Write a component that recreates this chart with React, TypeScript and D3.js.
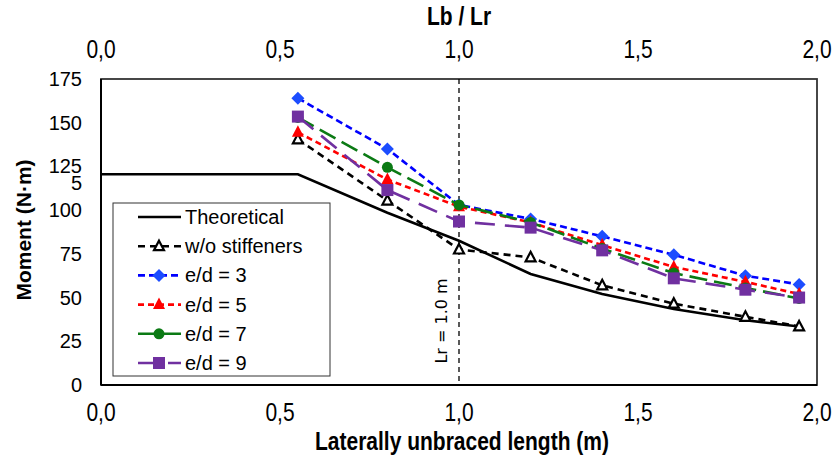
import React, { useEffect, useRef } from "react";
import * as d3 from "d3";

// x positions (laterally unbraced length, m)
const lengths = [0.55, 0.8, 1.0, 1.2, 1.4, 1.6, 1.8, 1.95];
const theoLengths = [0, 0.55, 0.8, 1.0, 1.2, 1.4, 1.6, 1.8, 1.95];

const theoretical = [120.5, 120.5, 98.5, 82.5, 63.5, 52, 43.5, 37, 33.5];
const woStiffeners = [140.5, 105.5, 77.5, 73, 57, 46.5, 39, 33.5];
const ed3 = [164, 135, 103, 95, 85, 74.5, 62.5, 57.5];
const ed5 = [144.5, 117.5, 102, 93, 80, 67.5, 59, 52];
const ed7 = [153, 124.5, 103, 93, 78, 64, 55.5, 49.5];
const ed9 = [153.5, 111.5, 93.5, 90, 77, 61, 54.5, 50];

const xTicks = [0, 0.5, 1.0, 1.5, 2.0];
const yTicks = [0, 25, 50, 75, 100, 125, 150, 175];

const series = [
  { name: "Theoretical", xs: theoLengths, values: theoretical, color: "#000000", dash: null, marker: null },
  { name: "w/o stiffeners", xs: lengths, values: woStiffeners, color: "#000000", dash: "7,5", marker: "openTriangle" },
  { name: "e/d = 3", xs: lengths, values: ed3, color: "#0000ff", dash: "7,4", marker: "diamond" },
  { name: "e/d = 5", xs: lengths, values: ed5, color: "#ff0000", dash: "6,4", marker: "triangle" },
  { name: "e/d = 7", xs: lengths, values: ed7, color: "#0b7a14", dash: "18,7", marker: "circle" },
  { name: "e/d = 9", xs: lengths, values: ed9, color: "#7030a0", dash: "20,10", marker: "square" },
];

const W = 834;
const H = 459;
const plot = { left: 101, right: 817, top: 79, bottom: 385 };

const sansFont = "'Liberation Sans', Arial, sans-serif";
const narrow = 0.84; // squeeze to look like Arial Narrow

const drawMarker = (g, type, x, y, color) => {
  if (type === "diamond") {
    g.append("path")
      .attr("d", `M${x},${y - 6.5}L${x + 6.5},${y}L${x},${y + 6.5}L${x - 6.5},${y}Z`)
      .attr("fill", "#1c4dff");
  } else if (type === "triangle") {
    g.append("path")
      .attr("d", `M${x},${y - 7}L${x + 6},${y + 4.5}L${x - 6},${y + 4.5}Z`)
      .attr("fill", color);
  } else if (type === "openTriangle") {
    g.append("path")
      .attr("d", `M${x},${y - 5.5}L${x + 5},${y + 4}L${x - 5},${y + 4}Z`)
      .attr("fill", "#ffffff")
      .attr("stroke", color)
      .attr("stroke-width", 2.2);
  } else if (type === "circle") {
    g.append("circle").attr("cx", x).attr("cy", y).attr("r", 5.5).attr("fill", color);
  } else if (type === "square") {
    g.append("rect").attr("x", x - 6).attr("y", y - 6).attr("width", 12).attr("height", 12).attr("fill", color);
  }
};

const App = () => {
  const ref = useRef(null);

  useEffect(() => {
    const svg = d3.select(ref.current);
    svg.selectAll("*").remove();

    const x = d3.scaleLinear().domain([0, 2]).range([plot.left, plot.right]);
    const y = d3.scaleLinear().domain([0, 175]).range([plot.bottom, plot.top]);

    svg.append("rect").attr("width", W).attr("height", H).attr("fill", "#ffffff");

    // plot frame
    svg.append("rect")
      .attr("x", plot.left)
      .attr("y", plot.top)
      .attr("width", plot.right - plot.left)
      .attr("height", plot.bottom - plot.top)
      .attr("fill", "none")
      .attr("stroke", "#333333")
      .attr("stroke-width", 1.8);

    svg.append("line")
      .attr("x1", plot.left).attr("x2", plot.left)
      .attr("y1", plot.top).attr("y2", plot.bottom)
      .attr("stroke", "#000").attr("stroke-width", 2);
    svg.append("line")
      .attr("x1", plot.left).attr("x2", plot.right)
      .attr("y1", plot.bottom).attr("y2", plot.bottom)
      .attr("stroke", "#000").attr("stroke-width", 2);

    // tick labels
    svg.append("g")
      .selectAll("text")
      .data(yTicks)
      .enter()
      .append("text")
      .attr("x", 82)
      .attr("y", (d) => y(d))
      .attr("dy", "0.35em")
      .attr("text-anchor", "end")
      .style("font-family", sansFont)
      .style("font-size", "20px")
      .text((d) => d);

    // stray label left over the 125 tick (as in the source figure)
    svg.append("text")
      .attr("x", 82)
      .attr("y", 183)
      .attr("dy", "0.35em")
      .attr("text-anchor", "end")
      .style("font-family", sansFont)
      .style("font-size", "20px")
      .text("5");

    const fmt = (d) => d3.format(".1f")(d).replace(".", ",");

    [421, 58].forEach((ty) => {
      svg.append("g")
        .selectAll("text")
        .data(xTicks)
        .enter()
        .append("text")
        .attr("transform", (d) => `translate(${x(d)},${ty}) scale(${narrow},1)`)
        .attr("text-anchor", "middle")
        .style("font-family", sansFont)
        .style("font-size", "25px")
        .text(fmt);
    });

    // axis titles
    svg.append("text")
      .attr("transform", `translate(462,450) scale(${narrow},1)`)
      .attr("text-anchor", "middle")
      .style("font-family", sansFont)
      .style("font-weight", "bold")
      .style("font-size", "25px")
      .text("Laterally unbraced length (m)");

    svg.append("text")
      .attr("transform", `translate(459,25) scale(${narrow},1)`)
      .attr("text-anchor", "middle")
      .style("font-family", sansFont)
      .style("font-weight", "bold")
      .style("font-size", "25px")
      .text("Lb / Lr");

    svg.append("text")
      .attr("transform", "translate(31,230) rotate(-90)")
      .attr("text-anchor", "middle")
      .style("font-family", sansFont)
      .style("font-weight", "bold")
      .style("font-size", "21px")
      .text("Moment (N·m)");

    // Lr reference line
    svg.append("line")
      .attr("x1", x(1)).attr("x2", x(1))
      .attr("y1", plot.top).attr("y2", plot.bottom)
      .attr("stroke", "#000")
      .attr("stroke-width", 1.3)
      .attr("stroke-dasharray", "5,4");

    svg.append("text")
      .attr("transform", `translate(${x(1) - 12},321) rotate(-90)`)
      .attr("text-anchor", "middle")
      .style("font-family", "'DejaVu Sans', sans-serif")
      .style("font-size", "16px")
      .text("Lr = 1.0 m");

    // legend
    const lg = svg.append("g");
    lg.append("rect")
      .attr("x", 113).attr("y", 203)
      .attr("width", 217).attr("height", 173)
      .attr("fill", "#ffffff")
      .attr("stroke", "#333333")
      .attr("stroke-width", 1);

    series.forEach((s, i) => {
      const ly = 217 + i * 29.2;
      lg.append("line")
        .attr("x1", 138).attr("x2", 181)
        .attr("y1", ly).attr("y2", ly)
        .attr("stroke", s.color)
        .attr("stroke-width", 2.6)
        .attr("stroke-dasharray", s.dash ? s.dash : null);
      if (s.marker) drawMarker(lg, s.marker, 159, ly, s.color);
      lg.append("text")
        .attr("x", 185)
        .attr("y", ly)
        .attr("dy", "0.35em")
        .style("font-family", sansFont)
        .style("font-size", "20px")
        .text(s.name);
    });

    // series
    series.forEach((s) => {
      const pts = s.xs.map((v, i) => [v, s.values[i]]);
      const line = d3.line().x((d) => x(d[0])).y((d) => y(d[1]));
      svg.append("path")
        .datum(pts)
        .attr("d", line)
        .attr("fill", "none")
        .attr("stroke", s.color)
        .attr("stroke-width", 2.6)
        .attr("stroke-dasharray", s.dash ? s.dash : null);
      if (s.marker) {
        const mg = svg.append("g");
        pts.forEach((p) => drawMarker(mg, s.marker, x(p[0]), y(p[1]), s.color));
      }
    });
  }, []);

  return <svg ref={ref} width={W} height={H} style={{ position: "absolute", left: 0, top: 0 }}></svg>;
};

export default App;
